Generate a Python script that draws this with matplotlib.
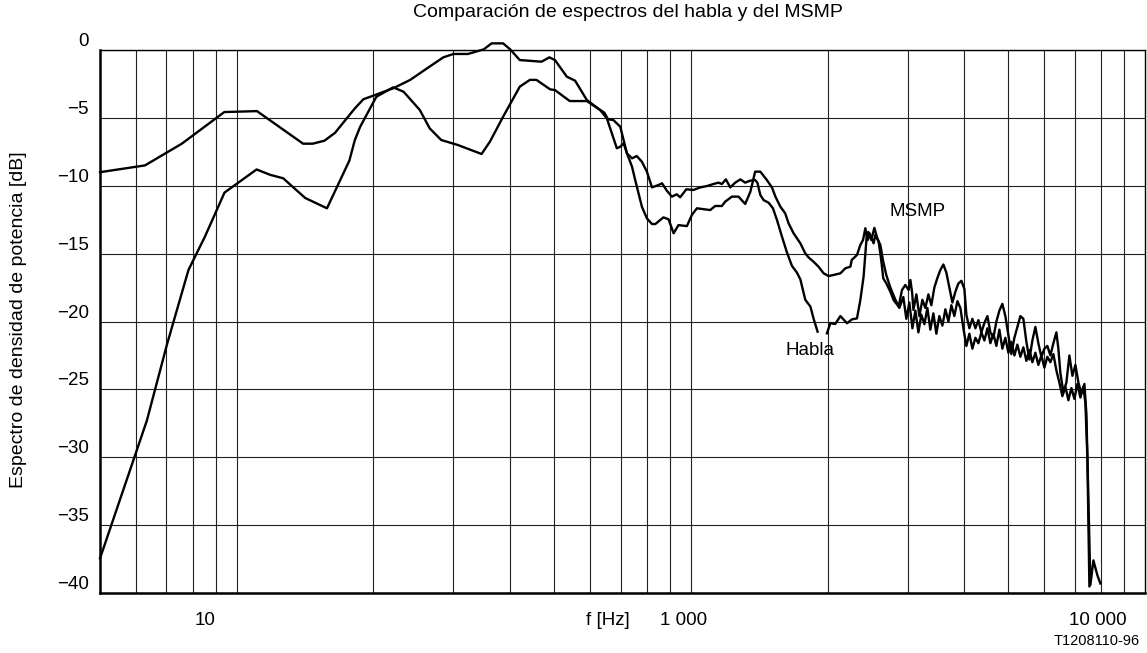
import numpy as np
import matplotlib
matplotlib.use('Agg')
import matplotlib.pyplot as plt
from matplotlib.ticker import NullFormatter

plt.rcParams['font.family'] = ['Liberation Sans', 'DejaVu Sans']

# --- datos (f en Hz, nivel en dB) ---
habla_f = [50, 62.8, 75.7, 93.9, 110.8, 140, 147, 156, 164.6, 182, 190, 221, 241, 258, 285,
           300, 323, 350, 364, 386, 400, 420, 469, 488, 502, 533, 556, 590, 631, 653, 670,
           687, 699, 711, 723, 742, 760, 780, 800, 821, 849, 864, 885, 908, 931, 947, 977,
           1013, 1049, 1085, 1121, 1150, 1170, 1194, 1221, 1252, 1285, 1317, 1352, 1385,
           1401, 1422, 1445, 1483, 1516, 1547, 1587, 1627, 1669, 1712, 1742, 1786, 1833,
           1863, 1901, 1950, 1993, 2028, 2079, 2134, 2207, 2263, 2321, 2361, 2400, 2422,
           2440, 2458, 2496, 2535, 2572, 2613, 2652, 2693, 2749, 2820, 2877, 2936, 2981,
           3027, 3074, 3121, 3169, 3217, 3267, 3317, 3367, 3419, 3471, 3524, 3579, 3634,
           3690, 3746, 3803, 3862, 3921, 3981, 4042, 4104, 4167, 4231, 4296, 4362, 4429,
           4497, 4565, 4635, 4706, 4778, 4851, 4925, 5001, 5078, 5156, 5234, 5315, 5396,
           5479, 5563, 5648, 5735, 5822, 5912, 6003, 6094, 6188, 6283, 6379, 6477, 6576,
           6677, 6780, 6884, 6989, 7096, 7205, 7315, 7390, 7465, 7541]
habla_db = [-9.0, -8.5, -6.9, -4.57, -4.5, -6.9, -6.9, -6.68, -6.1, -4.3, -3.63, -2.82, -2.2,
            -1.52, -0.54, -0.29, -0.29, 0.05, 0.49, 0.49, 0.05, -0.74, -0.86, -0.54, -0.74,
            -1.96, -2.26, -3.68, -4.42, -5.03, -6.14, -7.24, -7.12, -6.87, -7.61, -7.98,
            -7.81, -8.23, -8.96, -10.12, -9.94, -9.82, -10.36, -10.8, -10.63, -10.85, -10.26,
            -10.31, -10.12, -10.02, -9.87, -9.77, -9.87, -9.53, -10.12, -9.77, -9.53, -9.77,
            -9.62, -9.58, -9.77, -10.68, -11.05, -11.25, -11.66, -12.52, -13.75, -14.9,
            -15.9, -16.4, -16.9, -18.4, -18.9, -19.8, -20.75, np.nan, -20.87, -20.13, -20.18,
            -19.6, -20.13, -19.84, -19.77, -18.42, -16.7, -14.98, -13.6, -13.4, -14.0, -13.1,
            -13.85, -14.36, -15.6, -16.57, -17.5, -18.4, -19.0, -18.2, -19.8, -18.6, -20.5,
            -19.2, -20.8, -19.5, -20.2, -19.0, -20.6, -19.4, -20.9, -19.6, -20.3, -19.1,
            -20.0, -18.8, -19.6, -18.5, -19.0, -20.5, -21.8, -20.9, -22.0, -21.2, -21.6,
            -20.8, -21.4, -20.5, -21.6, -20.9, -21.8, -20.6, -22.0, -21.2, -22.3, -21.5,
            -22.5, -21.7, -22.6, -21.9, -22.9, -22.1, -23.0, -22.3, -23.2, -22.5, -23.4,
            -22.6, -23.0, -22.4, -23.6, -24.5, -25.5, -24.8, -25.8, -24.9, -25.7, -24.6,
            -25.6, -24.8, -26.0, -30.0, -39.5]

msmp_f = [50, 63.4, 70.2, 78.3, 85.1, 94, 110.6, 118.6, 126.6, 131, 141.5, 158, 169, 177,
          182, 187, 203, 221, 233, 253, 266, 282, 307, 346, 361, 386, 420, 442, 457, 490,
          502, 541, 590, 645, 657, 675, 699, 711, 723, 742, 754, 767, 780, 800, 821, 835,
          870, 893, 916, 939, 980, 1005, 1031, 1067, 1103, 1131, 1170, 1190, 1231, 1273,
          1317, 1352, 1385, 1422, 1470, 1508, 1535, 1574, 1613, 1641, 1683, 1742, 1786,
          1815, 1863, 1910, 1960, 2010, 2062, 2134, 2188, 2245, 2260, 2321, 2361, 2393,
          2422, 2451, 2475, 2525, 2547, 2590, 2613, 2635, 2652, 2693, 2749, 2795, 2867,
          2916, 2966, 3016, 3043, 3071, 3090, 3137, 3185, 3234, 3283, 3334, 3384, 3436,
          3489, 3543, 3597, 3652, 3708, 3765, 3823, 3881, 3941, 4001, 4042, 4104, 4167,
          4231, 4296, 4362, 4429, 4497, 4565, 4635, 4706, 4778, 4851, 4925, 5001, 5078,
          5156, 5234, 5315, 5396, 5479, 5563, 5648, 5735, 5822, 5912, 6003, 6094, 6188,
          6283, 6379, 6444, 6510, 6610, 6711, 6814, 6919, 7025, 7133, 7242, 7353, 7428,
          7503, 7580, 7696, 7854, 7974]
msmp_db = [-37.45, -27.3, -21.7, -16.2, -13.75, -10.5, -8.8, -9.2, -9.45, -9.9, -10.9,
           -11.66, -9.58, -8.15, -6.63, -5.65, -3.44, -2.75, -3.07, -4.42, -5.77, -6.63,
           -7.0, -7.66, -6.75, -4.91, -2.7, -2.2, -2.2, -2.9, -2.95, -3.76, -3.76, -4.62,
           -5.1, -5.16, -5.65, -6.63, -7.61, -8.6, -9.58, -10.56, -11.54, -12.4, -12.82,
           -12.82, -12.33, -12.47, -13.5, -12.9, -12.97, -12.15, -11.66, -11.73, -11.79,
           -11.49, -11.49, -11.17, -10.8, -10.8, -11.34, -10.44, -8.96, -8.96, -9.58,
           -10.12, -10.8, -11.54, -12.03, -12.77, -13.5, -14.24, -14.98, -15.27, -15.6,
           -15.96, -16.45, -16.65, -16.57, -16.45, -16.08, -15.96, -15.47, -15.1, -14.36,
           -14.0, -13.13, -14.0, -13.5, -14.24, -13.63, -14.12, -14.98, -15.96, -16.82,
           -17.19, -17.8, -18.42, -18.9, -17.68, -17.31, -17.68, -16.94, -17.92, -19.15,
           -18.0, -19.6, -18.4, -19.0, -18.0, -18.8, -17.5, -16.8, -16.2, -15.8, -16.4,
           -17.5, -18.6, -17.8, -17.2, -17.0, -17.6, -19.5, -20.5, -19.8, -20.5, -19.9,
           -20.8, -20.1, -19.6, -20.8, -21.2, -20.0, -19.2, -18.7, -19.6, -21.0, -22.4,
           -21.2, -20.4, -19.6, -19.8, -21.5, -22.8, -21.4, -20.4, -21.6, -22.6, -22.0,
           -21.8, -22.5, -21.6, -20.8, -22.0, -23.8, -25.2, -24.5, -22.5, -24.0, -23.2,
           -24.5, -25.3, -24.6, -26.8, -33.0, -39.4, -37.6, -38.7, -39.3]

# rejilla y rotulos de ejes
grid_f = [60, 70, 80, 90, 100, 200, 300, 400, 500, 600, 700, 800, 900,
          1000, 2000, 3000, 4000, 5000, 6000, 7000, 8000, 9000]
xlab_pos = [85, 962, 7890]
xlab_txt = ['10', '1 000', '10 000']
y_vals = [0, -5, -10, -15, -20, -25, -30, -35, -40]
y_txt = ['0', '\u22125', '\u221210', '\u221215', '\u221220', '\u221225',
         '\u221230', '\u221235', '\u221240']

fig = plt.figure(figsize=(11.47, 6.53), dpi=100)
ax = fig.add_axes([0.0872, 0.0919, 0.9111, 0.8315])
ax.set_xscale('log')
ax.set_xlim(50, 10000)
ax.set_ylim(-40, 0)

ax.plot(habla_f, habla_db, color='black', lw=1.7, zorder=3, clip_on=False)
ax.plot(msmp_f, msmp_db, color='black', lw=1.7, zorder=3, clip_on=False)

ax.set_xticks(xlab_pos, xlab_txt)
ax.set_xticks(grid_f, minor=True)
ax.xaxis.set_minor_formatter(NullFormatter())
ax.set_yticks(y_vals, y_txt)
ax.tick_params(which='both', length=0)
ax.tick_params(axis='x', pad=14, labelsize=13.5)
ax.tick_params(axis='y', pad=8, labelsize=13.5)
plt.setp(ax.get_yticklabels(), va='bottom')

ax.xaxis.grid(True, which='minor', color='#222222', lw=0.8)
ax.xaxis.grid(False, which='major')
ax.yaxis.grid(True, which='major', color='#222222', lw=0.8)

for s in ['left', 'bottom']:
    ax.spines[s].set_linewidth(1.8)
for s in ['top', 'right']:
    ax.spines[s].set_linewidth(1.0)

ax.text(655, -42.0, 'f [Hz]', fontsize=13.5, ha='center', va='center')
ax.text(3150, -11.9, 'MSMP', fontsize=13.5, ha='center', va='center')
ax.text(1833, -22.1, 'Habla', fontsize=13.5, ha='center', va='center')

fig.text(0.5475, 0.981, 'Comparación de espectros del habla y del MSMP',
         fontsize=14, ha='center', va='center')
fig.text(0.0157, 0.51, 'Espectro de densidad de potencia [dB]',
         fontsize=14, ha='center', va='center', rotation=90)
fig.text(0.9939, 0.0184, 'T1208110-96', fontsize=10.5, ha='right', va='center')

fig.savefig('out.png', dpi=100)
